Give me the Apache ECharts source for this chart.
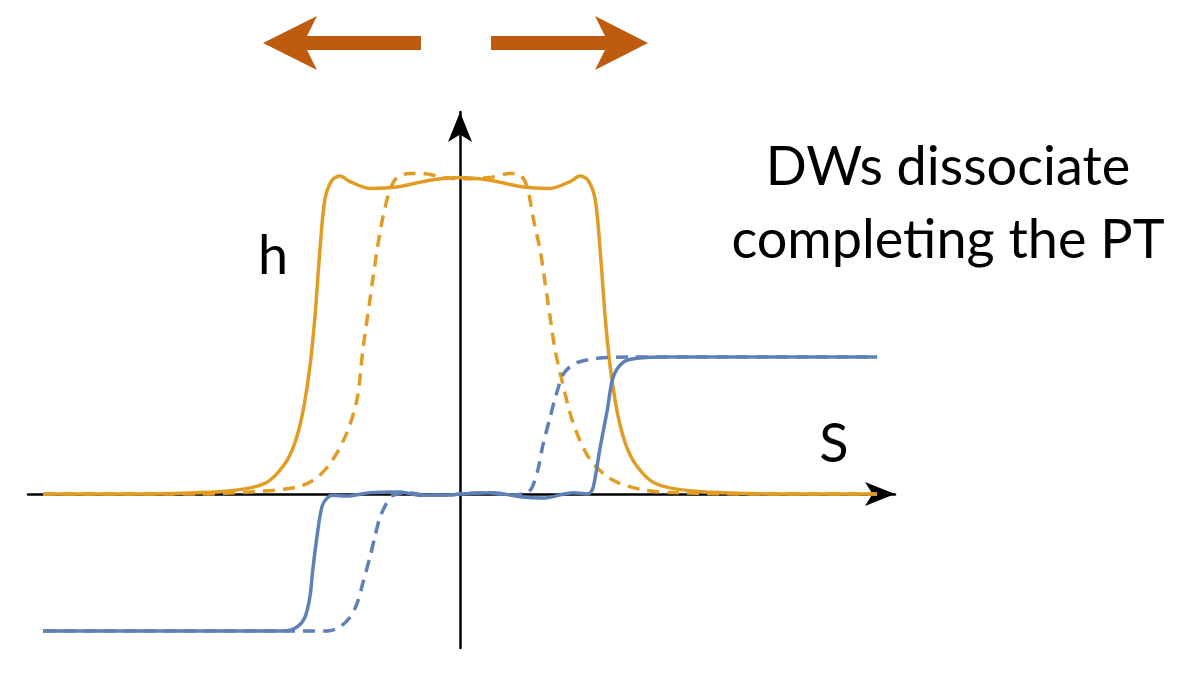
<!DOCTYPE html>
<html>
<head>
<meta charset="utf-8">
<title>DWs dissociate completing the PT</title>
<script src="https://cdn.jsdelivr.net/npm/echarts@6/dist/echarts.min.js"></script>
<style>
  html, body { margin: 0; padding: 0; background: #ffffff; }
  #chart { width: 1201px; height: 697px; }
</style>
</head>
<body>
<div id="chart"></div>
<script>
// h profile after dissociation (solid) and earlier (dashed), plus the order parameter (blue)
const hSolidS = [-10, -7.67, -6.47, -5.64, -4.96, -4.56, -4.20, -4.00, -3.84, -3.72, -3.60, -3.48, -3.36, -3.24, -3.07, -2.88, -2.64, -2.16, -1.51, -0.72, 0,
                 0.72, 1.51, 2.16, 2.64, 2.88, 3.07, 3.24, 3.36, 3.48, 3.60, 3.72, 3.84, 4.00, 4.20, 4.56, 4.96, 5.64, 6.47, 7.67, 10];
const hSolidV = [0, 0, 0.007, 0.02, 0.05, 0.10, 0.22, 0.34, 0.50, 0.68, 0.93, 1.29, 1.78, 2.15, 2.29, 2.32, 2.28, 2.23, 2.24, 2.29, 2.31,
                 2.29, 2.24, 2.23, 2.28, 2.32, 2.29, 2.15, 1.78, 1.29, 0.93, 0.68, 0.50, 0.34, 0.22, 0.10, 0.05, 0.02, 0.007, 0, 0];

const hDashedS = [-10, -6.24, -5.04, -3.91, -3.43, -3.05, -2.71, -2.47, -2.33, -2.16, -1.99, -1.85, -1.68, -1.51, -1.20, -0.89, -0.41, 0,
                  0.72, 1.20, 1.44, 1.61, 1.75, 1.92, 2.04, 2.16, 2.28, 2.45, 2.71, 3.12, 3.67, 4.39, 5.11, 7.19, 10];
const hDashedV = [0, 0, 0.015, 0.05, 0.12, 0.25, 0.45, 0.69, 1.05, 1.42, 1.78, 2.02, 2.22, 2.31, 2.34, 2.34, 2.31, 2.30,
                  2.31, 2.34, 2.33, 2.24, 2.02, 1.78, 1.54, 1.29, 1.05, 0.82, 0.52, 0.25, 0.10, 0.03, 0.01, 0, 0];

const phiSolidS = [-10, -4.80, -4.24, -3.91, -3.72, -3.60, -3.53, -3.43, -3.31, -3.19, -3.05, -2.71, -2.16, -1.44, -0.96, -0.31, 0,
                   0.79, 1.44, 1.99, 2.71, 3.05, 3.17, 3.24, 3.36, 3.53, 3.67, 3.91, 4.24, 4.96, 10];
const phiSolidV = [-1, -1, -1, -0.97, -0.90, -0.75, -0.55, -0.31, -0.09, -0.03, -0.01, -0.015, 0.01, 0.015, -0.01, -0.01, 0,
                   0.01, -0.02, -0.03, 0.01, 0, 0.03, 0.12, 0.34, 0.61, 0.85, 0.96, 0.99, 1.0, 1.0];

const phiDashedS = [-10, -4.00, -3.19, -2.88, -2.64, -2.47, -2.33, -2.16, -2.04, -1.92, -1.75, -1.61, -1.27, -0.79, -0.31, 0,
                    0.65, 1.20, 1.61, 1.73, 1.87, 1.99, 2.16, 2.30, 2.47, 2.64, 2.81, 3.29, 4.08, 10];
const phiDashedV = [-1, -1, -1, -0.97, -0.90, -0.80, -0.65, -0.46, -0.31, -0.17, -0.06, -0.01, 0.01, -0.01, -0.01, 0,
                    0.01, -0.01, 0.01, 0.05, 0.18, 0.36, 0.56, 0.72, 0.87, 0.93, 0.96, 0.99, 1.0, 1.0];

const labels = { h: 'h', s: 'S', line1: 'DWs dissociate', line2: 'completing the PT' };

const ORANGE = '#E19C24';
const BLUE = '#5E81B5';
const ARROW = '#BF5B0F';
const FONT = '54px Lato, "Open Sans", sans-serif';

function pairs(xs, ys) { return xs.map((x, i) => [x, ys[i]]); }

function curve(name, xs, ys, color, dashed) {
  return {
    name, type: 'line', data: pairs(xs, ys),
    showSymbol: false, smooth: 0.3, silent: true, animation: false,
    lineStyle: { color, width: 3.5, type: dashed ? [12, 8] : 'solid', cap: 'butt' }
  };
}

const chart = echarts.init(document.getElementById('chart'), null, { renderer: 'canvas' });
chart.setOption({
  backgroundColor: '#ffffff',
  animation: false,
  grid: { left: 28, right: 306, top: 112, bottom: 49, containLabel: false },
  xAxis: {
    type: 'value', min: -10.36, max: 10.43,
    axisLine: { onZero: true, symbol: ['none', 'arrow'], symbolSize: [18, 30],
                lineStyle: { color: '#000', width: 2.5 } },
    axisTick: { show: false }, axisLabel: { show: false }, splitLine: { show: false }
  },
  yAxis: {
    type: 'value', min: -1.124, max: 2.788,
    axisLine: { show: true, onZero: true, symbol: ['none', 'arrow'], symbolSize: [18, 30],
                lineStyle: { color: '#000', width: 2.5 } },
    axisTick: { show: false }, axisLabel: { show: false }, splitLine: { show: false }
  },
  series: [
    curve('h', hSolidS, hSolidV, ORANGE, false),
    curve('h earlier', hDashedS, hDashedV, ORANGE, true),
    curve('phi', phiSolidS, phiSolidV, BLUE, false),
    curve('phi earlier', phiDashedS, phiDashedV, BLUE, true)
  ],
  graphic: [
    // domain walls moving apart
    { type: 'polygon', silent: true,
      shape: { points: [[263, 43], [317, 16], [307, 36], [421, 36], [421, 50], [307, 50], [317, 70]] },
      style: { fill: ARROW } },
    { type: 'polygon', silent: true,
      shape: { points: [[648, 43], [595, 16], [605, 36], [491, 36], [491, 50], [605, 50], [595, 70]] },
      style: { fill: ARROW } },
    { type: 'text', silent: true, x: 273, y: 257,
      style: { text: labels.h, font: FONT, fill: '#000', align: 'center', verticalAlign: 'middle' } },
    { type: 'text', silent: true, x: 834, y: 445,
      style: { text: labels.s, font: FONT, fill: '#000', align: 'center', verticalAlign: 'middle' } },
    { type: 'text', silent: true, x: 948, y: 168,
      style: { text: labels.line1, font: FONT, fill: '#000', align: 'center', verticalAlign: 'middle' } },
    { type: 'text', silent: true, x: 948, y: 241,
      style: { text: labels.line2, font: FONT, fill: '#000', align: 'center', verticalAlign: 'middle' } }
  ]
});
</script>
</body>
</html>
